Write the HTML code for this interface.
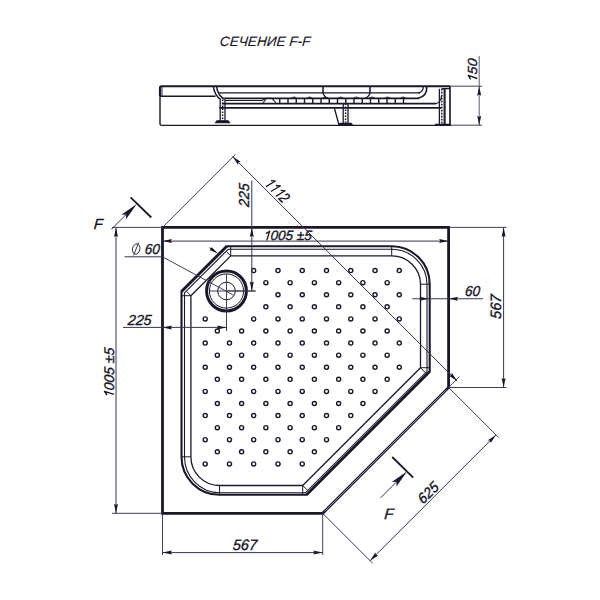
<!DOCTYPE html>
<html><head><meta charset="utf-8"><style>
html,body{margin:0;padding:0;background:#fff;width:600px;height:600px;overflow:hidden}
svg{display:block}
text{font-family:"Liberation Sans",sans-serif;font-style:italic;fill:#15121f;stroke:#15121f;stroke-width:0.35px}
</style></head><body>
<svg width="600" height="600" viewBox="0 0 600 600">
<rect width="600" height="600" fill="#fff"/>
<text x="0" y="0" font-size="13.6" transform="translate(219.6,46) skewX(-5)" style="stroke-width:0.1px">СЕЧЕНИЕ F-F</text>
<path d="M160,96 L160,123.8 Q160,125.4 161.6,125.4 L450,125.4" stroke="#1b1729" stroke-width="1.42" fill="none" />
<path d="M160,96 L160,87.8 Q160,86.2 161.6,86.2 L450,86.2" stroke="#1b1729" stroke-width="2.12" fill="none" />
<line x1="450.00" y1="86.20" x2="450.00" y2="125.20" stroke="#1b1729" stroke-width="1.65" />
<line x1="162.00" y1="87.00" x2="162.00" y2="96.00" stroke="#1b1729" stroke-width="0.94" />
<line x1="160.00" y1="96.20" x2="215.50" y2="96.20" stroke="#1b1729" stroke-width="1.53" />
<path d="M213.4,86.8 Q214.5,95 220.6,99.4" stroke="#1b1729" stroke-width="1.42" fill="none" />
<path d="M216.6,86.8 Q217.5,95 224.6,99.4" stroke="#1b1729" stroke-width="1.42" fill="none" />
<line x1="218.60" y1="92.90" x2="420.00" y2="92.90" stroke="#1b1729" stroke-width="1.42" />
<line x1="224.20" y1="98.40" x2="412.00" y2="98.40" stroke="#1b1729" stroke-width="1.89" />
<line x1="222.00" y1="103.70" x2="436.00" y2="103.70" stroke="#1b1729" stroke-width="1.77" />
<line x1="219.40" y1="107.80" x2="441.00" y2="107.80" stroke="#1b1729" stroke-width="1.77" />
<line x1="323.00" y1="86.20" x2="323.00" y2="92.90" stroke="#1b1729" stroke-width="1.53" />
<line x1="370.00" y1="86.20" x2="370.00" y2="92.90" stroke="#1b1729" stroke-width="1.53" />
<path d="M323,92.9 Q324,96.8 328,98.4" stroke="#1b1729" stroke-width="1.3" fill="none" />
<path d="M370,92.9 Q369,96.8 365,98.4" stroke="#1b1729" stroke-width="1.3" fill="none" />
<line x1="279.75" y1="98.40" x2="279.75" y2="103.70" stroke="#1b1729" stroke-width="1.42" />
<line x1="288.00" y1="98.40" x2="288.00" y2="103.70" stroke="#1b1729" stroke-width="1.42" />
<line x1="296.25" y1="98.40" x2="296.25" y2="103.70" stroke="#1b1729" stroke-width="1.42" />
<line x1="304.50" y1="98.40" x2="304.50" y2="103.70" stroke="#1b1729" stroke-width="1.42" />
<line x1="312.75" y1="98.40" x2="312.75" y2="103.70" stroke="#1b1729" stroke-width="1.42" />
<line x1="321.00" y1="98.40" x2="321.00" y2="103.70" stroke="#1b1729" stroke-width="1.42" />
<line x1="329.25" y1="98.40" x2="329.25" y2="103.70" stroke="#1b1729" stroke-width="1.42" />
<line x1="337.50" y1="98.40" x2="337.50" y2="103.70" stroke="#1b1729" stroke-width="1.42" />
<line x1="345.75" y1="98.40" x2="345.75" y2="103.70" stroke="#1b1729" stroke-width="1.42" />
<line x1="354.00" y1="98.40" x2="354.00" y2="103.70" stroke="#1b1729" stroke-width="1.42" />
<line x1="362.25" y1="98.40" x2="362.25" y2="103.70" stroke="#1b1729" stroke-width="1.42" />
<line x1="370.50" y1="98.40" x2="370.50" y2="103.70" stroke="#1b1729" stroke-width="1.42" />
<line x1="378.75" y1="98.40" x2="378.75" y2="103.70" stroke="#1b1729" stroke-width="1.42" />
<line x1="387.00" y1="98.40" x2="387.00" y2="103.70" stroke="#1b1729" stroke-width="1.42" />
<line x1="395.25" y1="98.40" x2="395.25" y2="103.70" stroke="#1b1729" stroke-width="1.42" />
<line x1="403.50" y1="98.40" x2="403.50" y2="103.70" stroke="#1b1729" stroke-width="1.42" />
<path d="M291.40,98.4 Q294.00,95.6 296.60,98.4" stroke="#1b1729" stroke-width="1.06" fill="none" />
<path d="M307.00,98.4 Q309.60,95.6 312.20,98.4" stroke="#1b1729" stroke-width="1.06" fill="none" />
<path d="M322.60,98.4 Q325.20,95.6 327.80,98.4" stroke="#1b1729" stroke-width="1.06" fill="none" />
<path d="M338.20,98.4 Q340.80,95.6 343.40,98.4" stroke="#1b1729" stroke-width="1.06" fill="none" />
<path d="M353.80,98.4 Q356.40,95.6 359.00,98.4" stroke="#1b1729" stroke-width="1.06" fill="none" />
<path d="M369.40,98.4 Q372.00,95.6 374.60,98.4" stroke="#1b1729" stroke-width="1.06" fill="none" />
<path d="M385.00,98.4 Q387.60,95.6 390.20,98.4" stroke="#1b1729" stroke-width="1.06" fill="none" />
<path d="M400.60,98.4 Q403.20,95.6 405.80,98.4" stroke="#1b1729" stroke-width="1.06" fill="none" />
<path d="M225,100.5 L262,100.5 L265.5,98.5" stroke="#1b1729" stroke-width="1.06" fill="none" />
<path d="M263,103 L266.5,98.3 L272,98.3 L276,103" stroke="#1b1729" stroke-width="1.06" fill="none" />
<path d="M426.7,86.6 Q427.5,96 418,98.4 L412,98.4" stroke="#1b1729" stroke-width="1.65" fill="none" />
<path d="M423.2,86.6 Q423.5,92 418,92.9" stroke="#1b1729" stroke-width="1.3" fill="none" />
<path d="M436,103.7 Q441,102 441.5,96" stroke="#1b1729" stroke-width="1.18" fill="none" />
<line x1="445.00" y1="88.80" x2="445.00" y2="124.50" stroke="#1b1729" stroke-width="1.3" />
<line x1="441.70" y1="88.60" x2="450.00" y2="88.60" stroke="#1b1729" stroke-width="1.3" />
<line x1="220.20" y1="99.50" x2="220.20" y2="121.60" stroke="#1b1729" stroke-width="1.3" />
<line x1="225.00" y1="99.50" x2="225.00" y2="121.60" stroke="#1b1729" stroke-width="1.3" />
<line x1="222.60" y1="99.50" x2="222.60" y2="121.60" stroke="#1b1729" stroke-width="1.5" stroke-dasharray="1.6 1.4"/>
<path d="M215.60,122.60 L217.00,120.80 L228.20,120.80 L229.60,122.60 Z" stroke="#1b1729" stroke-width="1.06" fill="#1b1729" />
<line x1="343.20" y1="103.50" x2="343.20" y2="123.50" stroke="#1b1729" stroke-width="1.3" />
<line x1="348.00" y1="103.50" x2="348.00" y2="123.50" stroke="#1b1729" stroke-width="1.3" />
<line x1="345.60" y1="103.50" x2="345.60" y2="123.50" stroke="#1b1729" stroke-width="1.5" stroke-dasharray="1.6 1.4"/>
<path d="M338.60,125.20 L340.00,123.40 L351.20,123.40 L352.60,125.20 Z" stroke="#1b1729" stroke-width="1.06" fill="#1b1729" />
<path d="M334.50,108.50 L339.00,125.00" stroke="#1b1729" stroke-width="1.3" fill="none" />
<line x1="439.40" y1="88.80" x2="439.40" y2="124.00" stroke="#1b1729" stroke-width="1.3" />
<line x1="444.20" y1="88.80" x2="444.20" y2="124.00" stroke="#1b1729" stroke-width="1.3" />
<line x1="441.80" y1="88.80" x2="441.80" y2="124.00" stroke="#1b1729" stroke-width="1.5" stroke-dasharray="1.6 1.4"/>
<line x1="435.00" y1="124.80" x2="451.00" y2="124.80" stroke="#1b1729" stroke-width="2.12" />
<line x1="450.00" y1="86.20" x2="482.00" y2="86.20" stroke="#3a3350" stroke-width="0.95" />
<line x1="450.00" y1="125.20" x2="482.00" y2="125.20" stroke="#3a3350" stroke-width="0.95" />
<line x1="479.20" y1="56.00" x2="479.20" y2="125.20" stroke="#3a3350" stroke-width="0.8" />
<path d="M479.20,86.20 L481.20,95.70 L479.20,94.50 L477.20,95.70 Z" fill="#1b1729" stroke="none"/>
<path d="M479.20,125.20 L477.20,115.70 L479.20,116.90 L481.20,115.70 Z" fill="#1b1729" stroke="none"/>
<g transform="translate(477.20,70.80) rotate(-90) scale(1.08,1) skewX(-5)"><path d="M-7.18,0.00 L-5.07,-8.98 L-8.50,-6.60" fill="none" stroke="#15121f" stroke-width="1.32" stroke-linejoin="round" stroke-linecap="butt"/><text x="-3.67" y="0" font-size="13.2" xml:space="preserve">50</text></g>
<path d="M162.50,227.40 L448.60,227.40 L448.60,387.50 L322.70,513.30 L162.50,513.30 Z" stroke="#1b1729" stroke-width="2.8" fill="none" stroke-linejoin="miter"/>
<line x1="446.60" y1="389.50" x2="324.70" y2="511.30" stroke="#ffffff" stroke-width="0.55" />
<path d="M226.80,246.20 L391.70,246.20 A38.00,38.00 0 0 1 429.70,284.20 L429.70,371.60 L306.50,494.80 L219.50,494.80 A38.00,38.00 0 0 1 181.50,456.80 L181.50,291.50 Z" stroke="#1b1729" stroke-width="2.1" fill="none" stroke-linejoin="round"/>
<path d="M228.10,249.30 L391.70,249.30 A35.30,34.90 0 0 1 427.00,284.20 L427.00,371.30 L305.60,492.70 L219.50,492.70 A35.00,35.90 0 0 1 184.50,456.80 L184.50,292.90 Z" stroke="#1b1729" stroke-width="1.1" fill="none" stroke-linejoin="round"/>
<path d="M230.70,255.90 L391.70,255.90 A28.80,28.30 0 0 1 420.50,284.20 L420.50,367.70 L302.70,485.50 L219.50,485.50 A28.60,28.70 0 0 1 190.90,456.80 L190.90,295.70 Z" stroke="#1b1729" stroke-width="1.3" fill="none" stroke-linejoin="round"/>
<line x1="226.80" y1="246.20" x2="181.50" y2="291.50" stroke="#1b1729" stroke-width="2.8" />
<line x1="429.70" y1="371.60" x2="306.50" y2="494.80" stroke="#1b1729" stroke-width="2.6" />
<line x1="391.70" y1="246.20" x2="391.70" y2="255.90" stroke="#1b1729" stroke-width="1.0" />
<line x1="429.70" y1="284.20" x2="420.50" y2="284.20" stroke="#1b1729" stroke-width="1.0" />
<line x1="219.50" y1="494.80" x2="219.50" y2="485.50" stroke="#1b1729" stroke-width="1.0" />
<line x1="181.50" y1="456.80" x2="190.90" y2="456.80" stroke="#1b1729" stroke-width="1.0" />
<line x1="230.70" y1="255.90" x2="230.70" y2="246.20" stroke="#1b1729" stroke-width="1.0" />
<line x1="230.70" y1="255.90" x2="226.60" y2="251.80" stroke="#1b1729" stroke-width="1.0" />
<line x1="190.90" y1="295.70" x2="181.50" y2="295.70" stroke="#1b1729" stroke-width="1.0" />
<line x1="190.90" y1="295.70" x2="186.60" y2="291.40" stroke="#1b1729" stroke-width="1.0" />
<line x1="420.50" y1="367.70" x2="429.70" y2="367.70" stroke="#1b1729" stroke-width="1.0" />
<line x1="420.50" y1="367.70" x2="425.55" y2="372.75" stroke="#1b1729" stroke-width="1.0" />
<line x1="302.70" y1="485.50" x2="302.70" y2="494.80" stroke="#1b1729" stroke-width="1.0" />
<line x1="302.70" y1="485.50" x2="307.75" y2="490.55" stroke="#1b1729" stroke-width="1.0" />
<line x1="209.30" y1="247.60" x2="217.50" y2="253.20" stroke="#1b1729" stroke-width="0.8" />
<path d="M217.50,253.20 L209.88,250.17 L210.65,248.52 L211.91,247.20 Z" fill="#1b1729" stroke="none"/>
<circle cx="226.5" cy="291.0" r="19.9" fill="none" stroke="#1b1729" stroke-width="3.0"/>
<circle cx="226.5" cy="291.0" r="17.1" fill="none" stroke="#1b1729" stroke-width="1.0"/>
<circle cx="226.5" cy="291.0" r="8.8" fill="none" stroke="#1b1729" stroke-width="1.0"/>
<line x1="209.50" y1="291.00" x2="255.50" y2="291.00" stroke="#3a3350" stroke-width="0.95" />
<line x1="226.50" y1="274.00" x2="226.50" y2="331.00" stroke="#3a3350" stroke-width="0.95" />
<circle cx="253.73" cy="270.60" r="2.05" fill="none" stroke="#1b1729" stroke-width="1.4"/>
<circle cx="277.99" cy="270.60" r="2.05" fill="none" stroke="#1b1729" stroke-width="1.4"/>
<circle cx="302.25" cy="270.60" r="2.05" fill="none" stroke="#1b1729" stroke-width="1.4"/>
<circle cx="326.51" cy="270.60" r="2.05" fill="none" stroke="#1b1729" stroke-width="1.4"/>
<circle cx="350.77" cy="270.60" r="2.05" fill="none" stroke="#1b1729" stroke-width="1.4"/>
<circle cx="375.03" cy="270.60" r="2.05" fill="none" stroke="#1b1729" stroke-width="1.4"/>
<circle cx="399.29" cy="270.60" r="2.05" fill="none" stroke="#1b1729" stroke-width="1.4"/>
<circle cx="265.86" cy="282.68" r="2.05" fill="none" stroke="#1b1729" stroke-width="1.4"/>
<circle cx="290.12" cy="282.68" r="2.05" fill="none" stroke="#1b1729" stroke-width="1.4"/>
<circle cx="314.38" cy="282.68" r="2.05" fill="none" stroke="#1b1729" stroke-width="1.4"/>
<circle cx="338.64" cy="282.68" r="2.05" fill="none" stroke="#1b1729" stroke-width="1.4"/>
<circle cx="362.90" cy="282.68" r="2.05" fill="none" stroke="#1b1729" stroke-width="1.4"/>
<circle cx="387.16" cy="282.68" r="2.05" fill="none" stroke="#1b1729" stroke-width="1.4"/>
<circle cx="277.99" cy="294.76" r="2.05" fill="none" stroke="#1b1729" stroke-width="1.4"/>
<circle cx="302.25" cy="294.76" r="2.05" fill="none" stroke="#1b1729" stroke-width="1.4"/>
<circle cx="326.51" cy="294.76" r="2.05" fill="none" stroke="#1b1729" stroke-width="1.4"/>
<circle cx="350.77" cy="294.76" r="2.05" fill="none" stroke="#1b1729" stroke-width="1.4"/>
<circle cx="375.03" cy="294.76" r="2.05" fill="none" stroke="#1b1729" stroke-width="1.4"/>
<circle cx="399.29" cy="294.76" r="2.05" fill="none" stroke="#1b1729" stroke-width="1.4"/>
<circle cx="265.86" cy="306.84" r="2.05" fill="none" stroke="#1b1729" stroke-width="1.4"/>
<circle cx="290.12" cy="306.84" r="2.05" fill="none" stroke="#1b1729" stroke-width="1.4"/>
<circle cx="314.38" cy="306.84" r="2.05" fill="none" stroke="#1b1729" stroke-width="1.4"/>
<circle cx="338.64" cy="306.84" r="2.05" fill="none" stroke="#1b1729" stroke-width="1.4"/>
<circle cx="362.90" cy="306.84" r="2.05" fill="none" stroke="#1b1729" stroke-width="1.4"/>
<circle cx="387.16" cy="306.84" r="2.05" fill="none" stroke="#1b1729" stroke-width="1.4"/>
<circle cx="205.21" cy="318.92" r="2.05" fill="none" stroke="#1b1729" stroke-width="1.4"/>
<circle cx="253.73" cy="318.92" r="2.05" fill="none" stroke="#1b1729" stroke-width="1.4"/>
<circle cx="277.99" cy="318.92" r="2.05" fill="none" stroke="#1b1729" stroke-width="1.4"/>
<circle cx="302.25" cy="318.92" r="2.05" fill="none" stroke="#1b1729" stroke-width="1.4"/>
<circle cx="326.51" cy="318.92" r="2.05" fill="none" stroke="#1b1729" stroke-width="1.4"/>
<circle cx="350.77" cy="318.92" r="2.05" fill="none" stroke="#1b1729" stroke-width="1.4"/>
<circle cx="375.03" cy="318.92" r="2.05" fill="none" stroke="#1b1729" stroke-width="1.4"/>
<circle cx="399.29" cy="318.92" r="2.05" fill="none" stroke="#1b1729" stroke-width="1.4"/>
<circle cx="217.34" cy="331.00" r="2.05" fill="none" stroke="#1b1729" stroke-width="1.4"/>
<circle cx="241.60" cy="331.00" r="2.05" fill="none" stroke="#1b1729" stroke-width="1.4"/>
<circle cx="265.86" cy="331.00" r="2.05" fill="none" stroke="#1b1729" stroke-width="1.4"/>
<circle cx="290.12" cy="331.00" r="2.05" fill="none" stroke="#1b1729" stroke-width="1.4"/>
<circle cx="314.38" cy="331.00" r="2.05" fill="none" stroke="#1b1729" stroke-width="1.4"/>
<circle cx="338.64" cy="331.00" r="2.05" fill="none" stroke="#1b1729" stroke-width="1.4"/>
<circle cx="362.90" cy="331.00" r="2.05" fill="none" stroke="#1b1729" stroke-width="1.4"/>
<circle cx="387.16" cy="331.00" r="2.05" fill="none" stroke="#1b1729" stroke-width="1.4"/>
<circle cx="205.21" cy="343.08" r="2.05" fill="none" stroke="#1b1729" stroke-width="1.4"/>
<circle cx="229.47" cy="343.08" r="2.05" fill="none" stroke="#1b1729" stroke-width="1.4"/>
<circle cx="253.73" cy="343.08" r="2.05" fill="none" stroke="#1b1729" stroke-width="1.4"/>
<circle cx="277.99" cy="343.08" r="2.05" fill="none" stroke="#1b1729" stroke-width="1.4"/>
<circle cx="302.25" cy="343.08" r="2.05" fill="none" stroke="#1b1729" stroke-width="1.4"/>
<circle cx="326.51" cy="343.08" r="2.05" fill="none" stroke="#1b1729" stroke-width="1.4"/>
<circle cx="350.77" cy="343.08" r="2.05" fill="none" stroke="#1b1729" stroke-width="1.4"/>
<circle cx="375.03" cy="343.08" r="2.05" fill="none" stroke="#1b1729" stroke-width="1.4"/>
<circle cx="399.29" cy="343.08" r="2.05" fill="none" stroke="#1b1729" stroke-width="1.4"/>
<circle cx="217.34" cy="355.16" r="2.05" fill="none" stroke="#1b1729" stroke-width="1.4"/>
<circle cx="241.60" cy="355.16" r="2.05" fill="none" stroke="#1b1729" stroke-width="1.4"/>
<circle cx="265.86" cy="355.16" r="2.05" fill="none" stroke="#1b1729" stroke-width="1.4"/>
<circle cx="290.12" cy="355.16" r="2.05" fill="none" stroke="#1b1729" stroke-width="1.4"/>
<circle cx="314.38" cy="355.16" r="2.05" fill="none" stroke="#1b1729" stroke-width="1.4"/>
<circle cx="338.64" cy="355.16" r="2.05" fill="none" stroke="#1b1729" stroke-width="1.4"/>
<circle cx="362.90" cy="355.16" r="2.05" fill="none" stroke="#1b1729" stroke-width="1.4"/>
<circle cx="387.16" cy="355.16" r="2.05" fill="none" stroke="#1b1729" stroke-width="1.4"/>
<circle cx="205.21" cy="367.24" r="2.05" fill="none" stroke="#1b1729" stroke-width="1.4"/>
<circle cx="229.47" cy="367.24" r="2.05" fill="none" stroke="#1b1729" stroke-width="1.4"/>
<circle cx="253.73" cy="367.24" r="2.05" fill="none" stroke="#1b1729" stroke-width="1.4"/>
<circle cx="277.99" cy="367.24" r="2.05" fill="none" stroke="#1b1729" stroke-width="1.4"/>
<circle cx="302.25" cy="367.24" r="2.05" fill="none" stroke="#1b1729" stroke-width="1.4"/>
<circle cx="326.51" cy="367.24" r="2.05" fill="none" stroke="#1b1729" stroke-width="1.4"/>
<circle cx="350.77" cy="367.24" r="2.05" fill="none" stroke="#1b1729" stroke-width="1.4"/>
<circle cx="375.03" cy="367.24" r="2.05" fill="none" stroke="#1b1729" stroke-width="1.4"/>
<circle cx="399.29" cy="367.24" r="2.05" fill="none" stroke="#1b1729" stroke-width="1.4"/>
<circle cx="217.34" cy="379.32" r="2.05" fill="none" stroke="#1b1729" stroke-width="1.4"/>
<circle cx="241.60" cy="379.32" r="2.05" fill="none" stroke="#1b1729" stroke-width="1.4"/>
<circle cx="265.86" cy="379.32" r="2.05" fill="none" stroke="#1b1729" stroke-width="1.4"/>
<circle cx="290.12" cy="379.32" r="2.05" fill="none" stroke="#1b1729" stroke-width="1.4"/>
<circle cx="314.38" cy="379.32" r="2.05" fill="none" stroke="#1b1729" stroke-width="1.4"/>
<circle cx="338.64" cy="379.32" r="2.05" fill="none" stroke="#1b1729" stroke-width="1.4"/>
<circle cx="362.90" cy="379.32" r="2.05" fill="none" stroke="#1b1729" stroke-width="1.4"/>
<circle cx="387.16" cy="379.32" r="2.05" fill="none" stroke="#1b1729" stroke-width="1.4"/>
<circle cx="205.21" cy="391.40" r="2.05" fill="none" stroke="#1b1729" stroke-width="1.4"/>
<circle cx="229.47" cy="391.40" r="2.05" fill="none" stroke="#1b1729" stroke-width="1.4"/>
<circle cx="253.73" cy="391.40" r="2.05" fill="none" stroke="#1b1729" stroke-width="1.4"/>
<circle cx="277.99" cy="391.40" r="2.05" fill="none" stroke="#1b1729" stroke-width="1.4"/>
<circle cx="302.25" cy="391.40" r="2.05" fill="none" stroke="#1b1729" stroke-width="1.4"/>
<circle cx="326.51" cy="391.40" r="2.05" fill="none" stroke="#1b1729" stroke-width="1.4"/>
<circle cx="350.77" cy="391.40" r="2.05" fill="none" stroke="#1b1729" stroke-width="1.4"/>
<circle cx="375.03" cy="391.40" r="2.05" fill="none" stroke="#1b1729" stroke-width="1.4"/>
<circle cx="217.34" cy="403.48" r="2.05" fill="none" stroke="#1b1729" stroke-width="1.4"/>
<circle cx="241.60" cy="403.48" r="2.05" fill="none" stroke="#1b1729" stroke-width="1.4"/>
<circle cx="265.86" cy="403.48" r="2.05" fill="none" stroke="#1b1729" stroke-width="1.4"/>
<circle cx="290.12" cy="403.48" r="2.05" fill="none" stroke="#1b1729" stroke-width="1.4"/>
<circle cx="314.38" cy="403.48" r="2.05" fill="none" stroke="#1b1729" stroke-width="1.4"/>
<circle cx="338.64" cy="403.48" r="2.05" fill="none" stroke="#1b1729" stroke-width="1.4"/>
<circle cx="362.90" cy="403.48" r="2.05" fill="none" stroke="#1b1729" stroke-width="1.4"/>
<circle cx="205.21" cy="415.56" r="2.05" fill="none" stroke="#1b1729" stroke-width="1.4"/>
<circle cx="229.47" cy="415.56" r="2.05" fill="none" stroke="#1b1729" stroke-width="1.4"/>
<circle cx="253.73" cy="415.56" r="2.05" fill="none" stroke="#1b1729" stroke-width="1.4"/>
<circle cx="277.99" cy="415.56" r="2.05" fill="none" stroke="#1b1729" stroke-width="1.4"/>
<circle cx="302.25" cy="415.56" r="2.05" fill="none" stroke="#1b1729" stroke-width="1.4"/>
<circle cx="326.51" cy="415.56" r="2.05" fill="none" stroke="#1b1729" stroke-width="1.4"/>
<circle cx="350.77" cy="415.56" r="2.05" fill="none" stroke="#1b1729" stroke-width="1.4"/>
<circle cx="217.34" cy="427.64" r="2.05" fill="none" stroke="#1b1729" stroke-width="1.4"/>
<circle cx="241.60" cy="427.64" r="2.05" fill="none" stroke="#1b1729" stroke-width="1.4"/>
<circle cx="265.86" cy="427.64" r="2.05" fill="none" stroke="#1b1729" stroke-width="1.4"/>
<circle cx="290.12" cy="427.64" r="2.05" fill="none" stroke="#1b1729" stroke-width="1.4"/>
<circle cx="314.38" cy="427.64" r="2.05" fill="none" stroke="#1b1729" stroke-width="1.4"/>
<circle cx="338.64" cy="427.64" r="2.05" fill="none" stroke="#1b1729" stroke-width="1.4"/>
<circle cx="205.21" cy="439.72" r="2.05" fill="none" stroke="#1b1729" stroke-width="1.4"/>
<circle cx="229.47" cy="439.72" r="2.05" fill="none" stroke="#1b1729" stroke-width="1.4"/>
<circle cx="253.73" cy="439.72" r="2.05" fill="none" stroke="#1b1729" stroke-width="1.4"/>
<circle cx="277.99" cy="439.72" r="2.05" fill="none" stroke="#1b1729" stroke-width="1.4"/>
<circle cx="302.25" cy="439.72" r="2.05" fill="none" stroke="#1b1729" stroke-width="1.4"/>
<circle cx="326.51" cy="439.72" r="2.05" fill="none" stroke="#1b1729" stroke-width="1.4"/>
<circle cx="217.34" cy="451.80" r="2.05" fill="none" stroke="#1b1729" stroke-width="1.4"/>
<circle cx="241.60" cy="451.80" r="2.05" fill="none" stroke="#1b1729" stroke-width="1.4"/>
<circle cx="265.86" cy="451.80" r="2.05" fill="none" stroke="#1b1729" stroke-width="1.4"/>
<circle cx="290.12" cy="451.80" r="2.05" fill="none" stroke="#1b1729" stroke-width="1.4"/>
<circle cx="314.38" cy="451.80" r="2.05" fill="none" stroke="#1b1729" stroke-width="1.4"/>
<circle cx="205.21" cy="463.88" r="2.05" fill="none" stroke="#1b1729" stroke-width="1.4"/>
<circle cx="229.47" cy="463.88" r="2.05" fill="none" stroke="#1b1729" stroke-width="1.4"/>
<circle cx="253.73" cy="463.88" r="2.05" fill="none" stroke="#1b1729" stroke-width="1.4"/>
<circle cx="277.99" cy="463.88" r="2.05" fill="none" stroke="#1b1729" stroke-width="1.4"/>
<circle cx="302.25" cy="463.88" r="2.05" fill="none" stroke="#1b1729" stroke-width="1.4"/>
<line x1="162.50" y1="241.10" x2="448.60" y2="241.10" stroke="#3a3350" stroke-width="1.0" />
<path d="M162.50,241.10 L172.00,239.10 L170.80,241.10 L172.00,243.10 Z" fill="#1b1729" stroke="none"/>
<path d="M448.60,241.10 L439.10,243.10 L440.30,241.10 L439.10,239.10 Z" fill="#1b1729" stroke="none"/>
<g transform="translate(287.40,240.40) skewX(-5)"><path d="M-20.67,0.00 L-18.51,-9.18 L-22.02,-6.75" fill="none" stroke="#15121f" stroke-width="1.35" stroke-linejoin="round" stroke-linecap="butt"/><text x="-17.08" y="0" font-size="13.5" xml:space="preserve">005 ±5</text></g>
<line x1="112.00" y1="227.40" x2="162.50" y2="227.40" stroke="#3a3350" stroke-width="0.95" />
<line x1="112.00" y1="513.30" x2="162.50" y2="513.30" stroke="#3a3350" stroke-width="0.95" />
<line x1="116.00" y1="227.40" x2="116.00" y2="513.30" stroke="#3a3350" stroke-width="1.0" />
<path d="M116.00,227.40 L118.00,236.90 L116.00,235.70 L114.00,236.90 Z" fill="#1b1729" stroke="none"/>
<path d="M116.00,513.30 L114.00,503.80 L116.00,505.00 L118.00,503.80 Z" fill="#1b1729" stroke="none"/>
<g transform="translate(114.00,373.00) rotate(-90) skewX(-5)"><path d="M-21.43,0.00 L-19.19,-9.52 L-22.83,-7.00" fill="none" stroke="#15121f" stroke-width="1.40" stroke-linejoin="round" stroke-linecap="butt"/><text x="-17.71" y="0" font-size="14" xml:space="preserve">005 ±5</text></g>
<line x1="448.60" y1="227.40" x2="506.50" y2="227.40" stroke="#3a3350" stroke-width="0.95" />
<line x1="448.60" y1="387.50" x2="506.50" y2="387.50" stroke="#3a3350" stroke-width="0.95" />
<line x1="503.60" y1="227.40" x2="503.60" y2="387.50" stroke="#3a3350" stroke-width="1.0" />
<path d="M503.60,227.40 L505.60,236.90 L503.60,235.70 L501.60,236.90 Z" fill="#1b1729" stroke="none"/>
<path d="M503.60,387.50 L501.60,378.00 L503.60,379.20 L505.60,378.00 Z" fill="#1b1729" stroke="none"/>
<g transform="translate(501.20,307.00) rotate(-90) scale(0.97,1) skewX(-5)"><text x="-12.51" y="0" font-size="15" xml:space="preserve">567</text></g>
<line x1="162.50" y1="513.30" x2="162.50" y2="555.00" stroke="#3a3350" stroke-width="0.95" />
<line x1="322.70" y1="513.30" x2="322.70" y2="555.00" stroke="#3a3350" stroke-width="0.95" />
<line x1="162.50" y1="552.60" x2="322.70" y2="552.60" stroke="#3a3350" stroke-width="1.0" />
<path d="M162.50,552.60 L172.00,550.60 L170.80,552.60 L172.00,554.60 Z" fill="#1b1729" stroke="none"/>
<path d="M322.70,552.60 L313.20,554.60 L314.40,552.60 L313.20,550.60 Z" fill="#1b1729" stroke="none"/>
<g transform="translate(244.60,549.80) scale(0.97,1) skewX(-5)"><text x="-12.51" y="0" font-size="15" xml:space="preserve">567</text></g>
<line x1="448.60" y1="387.50" x2="498.60" y2="437.50" stroke="#3a3350" stroke-width="0.95" />
<line x1="322.70" y1="513.30" x2="372.70" y2="563.30" stroke="#3a3350" stroke-width="0.95" />
<line x1="496.00" y1="434.90" x2="370.10" y2="560.70" stroke="#3a3350" stroke-width="1.0" />
<path d="M496.00,434.90 L490.70,443.03 L490.13,440.77 L487.87,440.20 Z" fill="#1b1729" stroke="none"/>
<path d="M370.10,560.70 L375.40,552.57 L375.97,554.83 L378.23,555.40 Z" fill="#1b1729" stroke="none"/>
<g transform="translate(431.40,496.50) rotate(-45) scale(0.97,1) skewX(-5)"><text x="-12.09" y="0" font-size="14.5" xml:space="preserve">625</text></g>
<line x1="162.50" y1="227.40" x2="235.30" y2="154.60" stroke="#3a3350" stroke-width="0.95" />
<line x1="448.60" y1="387.50" x2="459.50" y2="376.60" stroke="#3a3350" stroke-width="0.95" />
<line x1="232.60" y1="156.50" x2="457.10" y2="381.00" stroke="#3a3350" stroke-width="1.0" />
<path d="M232.60,156.50 L240.73,161.80 L238.47,162.37 L237.90,164.63 Z" fill="#1b1729" stroke="none"/>
<path d="M457.10,381.00 L448.97,375.70 L451.23,375.13 L451.80,372.87 Z" fill="#1b1729" stroke="none"/>
<g transform="translate(273.20,193.80) rotate(45) scale(0.8,1) skewX(-5)"><path d="M-12.74,0.00 L-10.26,-10.54 L-14.29,-7.75" fill="none" stroke="#15121f" stroke-width="1.55" stroke-linejoin="round" stroke-linecap="butt"/><path d="M-4.12,0.00 L-1.64,-10.54 L-5.67,-7.75" fill="none" stroke="#15121f" stroke-width="1.55" stroke-linejoin="round" stroke-linecap="butt"/><path d="M4.50,0.00 L6.98,-10.54 L2.94,-7.75" fill="none" stroke="#15121f" stroke-width="1.55" stroke-linejoin="round" stroke-linecap="butt"/><text x="8.62" y="0" font-size="15.5" xml:space="preserve">2</text></g>
<line x1="251.80" y1="180.50" x2="251.80" y2="291.00" stroke="#3a3350" stroke-width="1.0" />
<path d="M251.80,227.40 L253.80,236.90 L251.80,235.70 L249.80,236.90 Z" fill="#1b1729" stroke="none"/>
<path d="M251.80,291.00 L249.80,281.50 L251.80,282.70 L253.80,281.50 Z" fill="#1b1729" stroke="none"/>
<line x1="226.50" y1="291.00" x2="255.50" y2="291.00" stroke="#3a3350" stroke-width="0.95" />
<g transform="translate(248.60,195.50) rotate(-90) scale(0.97,1) skewX(-5)"><text x="-12.09" y="0" font-size="14.5" xml:space="preserve">225</text></g>
<line x1="123.00" y1="327.40" x2="226.50" y2="327.40" stroke="#3a3350" stroke-width="1.0" />
<path d="M162.50,327.40 L172.00,325.40 L170.80,327.40 L172.00,329.40 Z" fill="#1b1729" stroke="none"/>
<path d="M226.50,327.40 L217.00,329.40 L218.20,327.40 L217.00,325.40 Z" fill="#1b1729" stroke="none"/>
<g transform="translate(139.40,324.60) scale(0.98,1) skewX(-5)"><text x="-12.09" y="0" font-size="14.5" xml:space="preserve">225</text></g>
<line x1="412.30" y1="298.75" x2="483.00" y2="298.75" stroke="#3a3350" stroke-width="1.0" />
<path d="M429.00,298.75 L419.50,300.75 L420.70,298.75 L419.50,296.75 Z" fill="#1b1729" stroke="none"/>
<path d="M448.60,298.75 L458.10,296.75 L456.90,298.75 L458.10,300.75 Z" fill="#1b1729" stroke="none"/>
<g transform="translate(472.30,295.90) scale(0.93,1) skewX(-5)"><text x="-8.06" y="0" font-size="14.5" xml:space="preserve">60</text></g>
<line x1="124.50" y1="256.80" x2="162.50" y2="256.80" stroke="#3a3350" stroke-width="1.0" />
<line x1="162.50" y1="256.80" x2="233.50" y2="295.20" stroke="#3a3350" stroke-width="0.95" />
<g transform="translate(152.00,254.10) scale(0.93,1) skewX(-5)"><text x="-8.06" y="0" font-size="14.5" xml:space="preserve">60</text></g>
<g transform="translate(136.2,249.0) rotate(12)"><ellipse cx="0" cy="0" rx="3.7" ry="5.2" fill="none" stroke="#2a2438" stroke-width="0.9"/></g>
<line x1="138.60" y1="242.60" x2="133.60" y2="255.40" stroke="#2a2438" stroke-width="0.9" />
<line x1="130.60" y1="197.40" x2="151.30" y2="217.50" stroke="#1b1729" stroke-width="1.8" />
<line x1="111.30" y1="229.40" x2="134.00" y2="206.60" stroke="#1b1729" stroke-width="0.9" />
<path d="M136.80,203.90 L126.05,219.31 L126.19,214.51 L121.39,214.65 Z" fill="#1b1729"/>
<text x="0" y="0" font-size="14.6" transform="translate(93.4,228.9) skewX(-5)">F</text>
<line x1="392.20" y1="457.00" x2="413.20" y2="477.60" stroke="#1b1729" stroke-width="1.8" />
<line x1="380.60" y1="497.80" x2="404.00" y2="474.40" stroke="#1b1729" stroke-width="0.9" />
<path d="M407.20,471.20 L396.45,486.61 L396.59,481.81 L391.79,481.95 Z" fill="#1b1729"/>
<text x="0" y="0" font-size="15" transform="translate(383.9,518.5) skewX(-5)">F</text>
</svg>
</body></html>
